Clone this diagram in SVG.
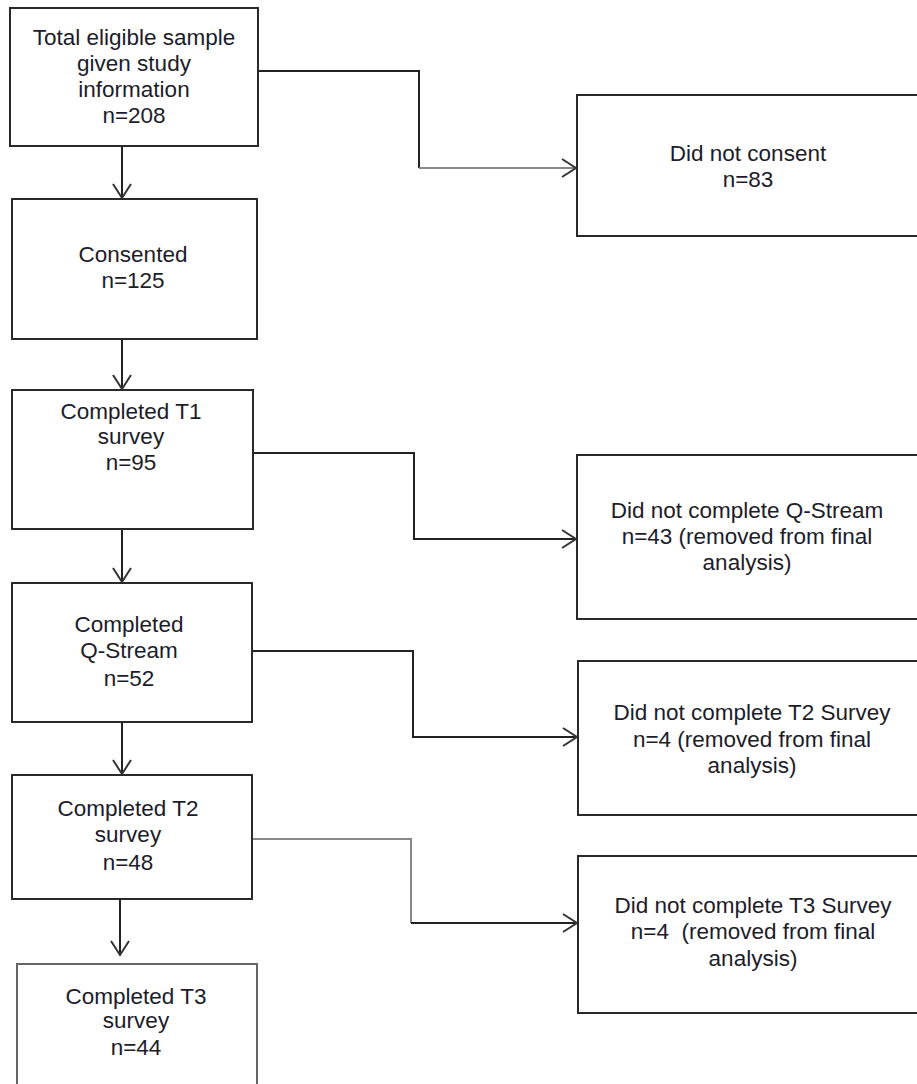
<svg xmlns="http://www.w3.org/2000/svg" width="917" height="1084" viewBox="0 0 917 1084">
<style>
.box{fill:#fff;stroke:#2a2a2a;stroke-width:2}
.lt{stroke:#666}
.t{font-family:"Liberation Sans",Arial,sans-serif;font-size:22.5px;fill:#1c1c2a;text-anchor:middle}
.c{fill:none;stroke:#222;stroke-width:2}
.g{stroke:#888}
</style>
<defs>
<marker id="ah" markerUnits="userSpaceOnUse" markerWidth="18" markerHeight="22" viewBox="0 0 18 22" refX="16" refY="11" orient="auto">
<path d="M2,2 L16,11 L2,20" fill="none" stroke="#333" stroke-width="2"/>
</marker>
</defs>
<rect width="917" height="1084" fill="#fff"/>
<g id="connectors">
<path class="c" d="M122,146 V198" marker-end="url(#ah)"/>
<path class="c" d="M122,339 V389" marker-end="url(#ah)"/>
<path class="c" d="M122,529 V582" marker-end="url(#ah)"/>
<path class="c" d="M122,722 V774" marker-end="url(#ah)"/>
<path class="c" d="M120,899 V955" marker-end="url(#ah)"/>
<path class="c" d="M258,71 H419 V168"/>
<path class="c g" d="M419,168 H576" marker-end="url(#ah)"/>
<path class="c" d="M253,453 H414 V539 H576" marker-end="url(#ah)"/>
<path class="c" d="M252,651 H413 V737 H577" marker-end="url(#ah)"/>
<path class="c g" d="M252,839 H411 V923"/>
<path class="c" d="M411,923 H577" marker-end="url(#ah)"/>
</g>
<g id="n1">
<rect class="box" x="10" y="8" width="248" height="138"/>
<text class="t" x="134" y="45">Total eligible sample</text>
<text class="t" x="134" y="71">given study</text>
<text class="t" x="134" y="97">information</text>
<text class="t" x="134" y="123">n=208</text>
</g>
<g id="n2">
<rect class="box" x="577" y="95" width="350" height="141"/>
<text class="t" x="748" y="161">Did not consent</text>
<text class="t" x="748" y="187">n=83</text>
</g>
<g id="n3">
<rect class="box" x="12" y="199" width="245" height="140"/>
<text class="t" x="133" y="262">Consented</text>
<text class="t" x="133" y="288">n=125</text>
</g>
<g id="n4">
<rect class="box" x="12" y="390" width="241" height="139"/>
<text class="t" x="131" y="419">Completed T1</text>
<text class="t" x="131" y="444">survey</text>
<text class="t" x="131" y="470">n=95</text>
</g>
<g id="n5">
<rect class="box" x="577" y="455" width="350" height="164"/>
<text class="t" x="747" y="518">Did not complete Q-Stream</text>
<text class="t" x="747" y="544">n=43 (removed from final</text>
<text class="t" x="747" y="570">analysis)</text>
</g>
<g id="n6">
<rect class="box" x="12" y="583" width="240" height="139"/>
<text class="t" x="129" y="632">Completed</text>
<text class="t" x="129" y="658">Q-Stream</text>
<text class="t" x="129" y="686">n=52</text>
</g>
<g id="n7">
<rect class="box" x="578" y="661" width="350" height="154"/>
<text class="t" x="752" y="720">Did not complete T2 Survey</text>
<text class="t" x="752" y="747">n=4 (removed from final</text>
<text class="t" x="752" y="773">analysis)</text>
</g>
<g id="n8">
<rect class="box" x="12" y="775" width="240" height="124"/>
<text class="t" x="128" y="816">Completed T2</text>
<text class="t" x="128" y="842">survey</text>
<text class="t" x="128" y="870">n=48</text>
</g>
<g id="n9">
<rect class="box" x="578" y="856" width="350" height="157"/>
<text class="t" x="753" y="913">Did not complete T3 Survey</text>
<text class="t" x="753" y="939" xml:space="preserve">n=4  (removed from final</text>
<text class="t" x="753" y="966">analysis)</text>
</g>
<g id="n10">
<rect class="box lt" x="17" y="964" width="240" height="140"/>
<text class="t" x="136" y="1004">Completed T3</text>
<text class="t" x="136" y="1028">survey</text>
<text class="t" x="136" y="1055">n=44</text>
</g>
</svg>
